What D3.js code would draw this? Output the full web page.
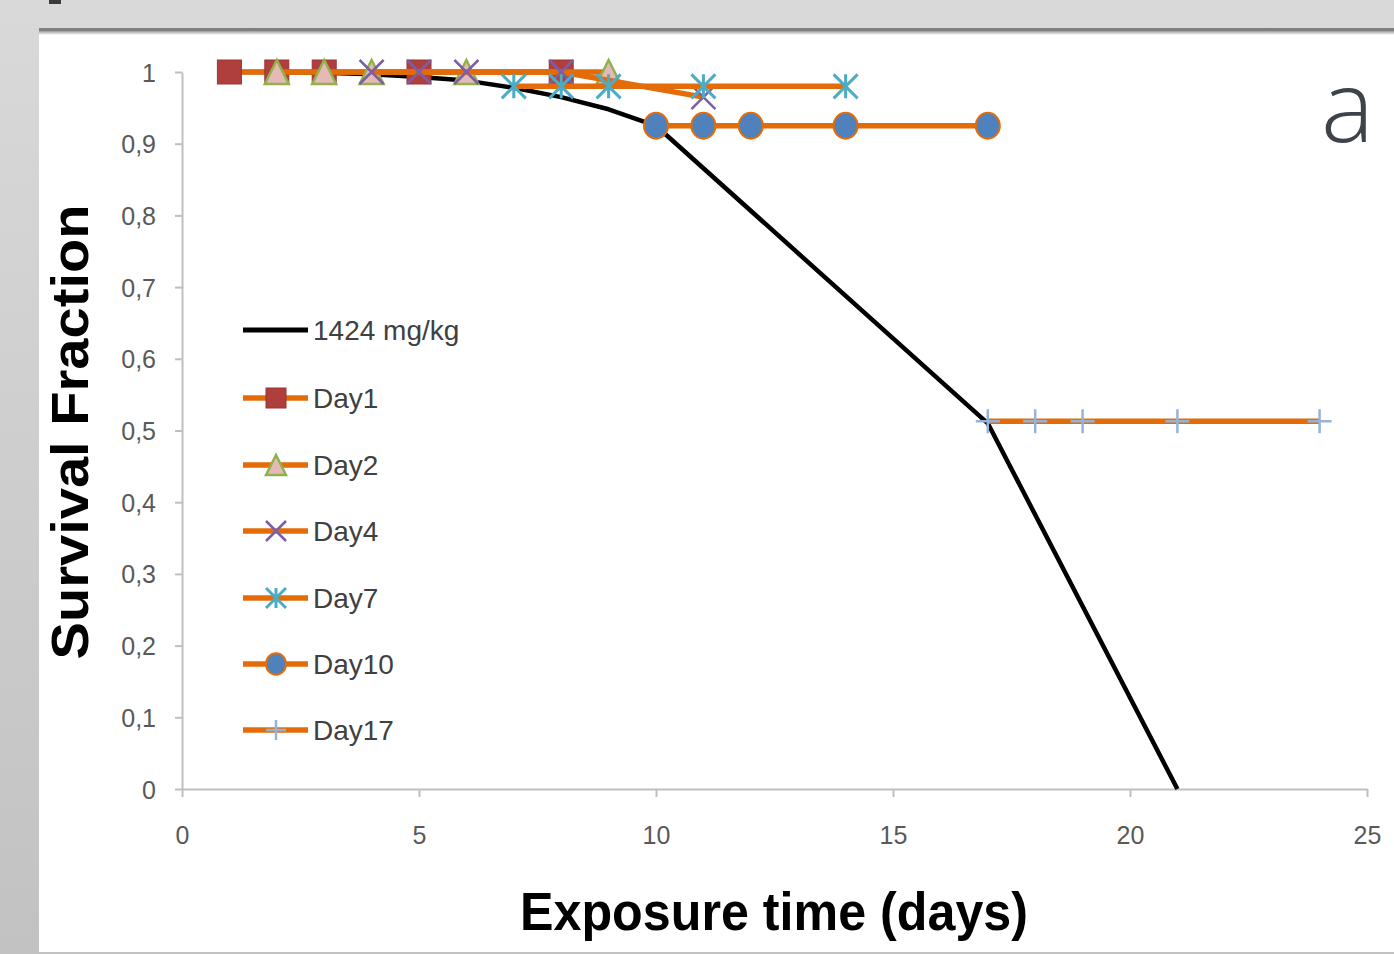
<!DOCTYPE html>
<html>
<head>
    <title>Survival Fraction</title>
    <script src="https://d3js.org/d3.v7.min.js"></script>
    <style>
        body { margin: 0; background: #d8d8d8; }
        svg { display: block; }
        .tick-label { font-family: "Liberation Sans", Arial, sans-serif; font-size: 25px; fill: #595959; }
        .legend-label { font-family: "Liberation Sans", Arial, sans-serif; font-size: 28px; fill: #404040; }
        .axis-title { font-family: "Liberation Sans", Arial, sans-serif; font-weight: bold; fill: #000; }
    </style>
</head>
<body>
<svg width="1394" height="954"></svg>
<script>
    // data
    const xTicks = [0, 5, 10, 15, 20, 25];
    const yTicks = [0, 0.1, 0.2, 0.3, 0.4, 0.5, 0.6, 0.7, 0.8, 0.9, 1];

    const doseDays = [1, 2, 3, 4, 5, 6, 7, 8, 9, 10, 17, 21];
    const doseSurv = [1, 1, 0.999, 0.997, 0.993, 0.988, 0.978, 0.965, 0.948, 0.925, 0.51, 0];

    const day1Days = [1, 2, 3, 5, 8];
    const day1Surv = [1, 1, 1, 1, 1];
    const day2Days = [2, 3, 4, 6, 9];
    const day2Surv = [1, 1, 1, 1, 1];
    const day4Days = [4, 5, 6, 8, 11];
    const day4Surv = [1, 1, 1, 1, 0.965];
    const day7Days = [7, 8, 9, 11, 14];
    const day7Surv = [0.98, 0.98, 0.98, 0.98, 0.98];
    const day10Days = [10, 11, 12, 14, 17];
    const day10Surv = [0.925, 0.925, 0.925, 0.925, 0.925];
    const day17Days = [17, 18, 19, 21, 24];
    const day17Surv = [0.513, 0.513, 0.513, 0.513, 0.513];

    const seriesNames = ["Day1", "Day2", "Day4", "Day7", "Day10", "Day17"];
    const seriesDays = [day1Days, day2Days, day4Days, day7Days, day10Days, day17Days];
    const seriesSurv = [day1Surv, day2Surv, day4Surv, day7Surv, day10Surv, day17Surv];
    const markers = ["square", "triangle", "cross", "star", "circle", "plus"];

    const orange = "#e36c09";

    const svg = d3.select("svg");

    // page background and white panel
    const defs = svg.append("defs");
    const bg = defs.append("linearGradient").attr("id", "bg")
        .attr("x1", 0).attr("y1", 0).attr("x2", 0).attr("y2", 1);
    bg.append("stop").attr("offset", "0%").attr("stop-color", "#d9d9d9");
    bg.append("stop").attr("offset", "100%").attr("stop-color", "#c2c2c2");
    const sh = defs.append("linearGradient").attr("id", "shadow")
        .attr("x1", 0).attr("y1", 0).attr("x2", 0).attr("y2", 1);
    sh.append("stop").attr("offset", "0%").attr("stop-color", "#9a9a9a");
    sh.append("stop").attr("offset", "100%").attr("stop-color", "#ffffff");

    svg.append("rect").attr("width", 1394).attr("height", 954).attr("fill", "url(#bg)");
    svg.append("rect").attr("x", 49).attr("y", 0).attr("width", 12).attr("height", 4).attr("fill", "#3a3a3a");
    svg.append("rect").attr("x", 39).attr("y", 28).attr("width", 1355).attr("height", 924).attr("fill", "#fff");
    svg.append("rect").attr("x", 39).attr("y", 28).attr("width", 1355).attr("height", 3).attr("fill", "#7f7f7f");
    svg.append("rect").attr("x", 39).attr("y", 31).attr("width", 1355).attr("height", 4).attr("fill", "url(#shadow)");

    const x = d3.scaleLinear().domain([0, 25]).range([182, 1367]);
    const y = d3.scaleLinear().domain([0, 1]).range([789, 72]);

    // axes
    const xAxis = svg.append("g")
        .attr("transform", "translate(0," + y(0) + ")")
        .call(d3.axisBottom(x).tickValues(xTicks).tickSize(8).tickSizeOuter(0).tickFormat(d3.format("d")));
    const yAxis = svg.append("g")
        .attr("transform", "translate(" + x(0) + ",0)")
        .call(d3.axisLeft(y).tickValues(yTicks).tickSize(7).tickSizeOuter(0)
            .tickFormat(d => d3.format("~g")(d).replace(".", ",")));

    [xAxis, yAxis].forEach(a => {
        a.select(".domain").attr("stroke", "#bfbfbf").attr("stroke-width", 2);
        a.selectAll(".tick line").attr("stroke", "#bfbfbf").attr("stroke-width", 2);
        a.selectAll(".tick text").attr("class", "tick-label").attr("font-size", null).attr("font-family", null).attr("fill", null);
    });
    xAxis.selectAll(".tick text").attr("dy", null).attr("y", 55);
    yAxis.selectAll(".tick text").attr("x", -26).attr("dy", "0.36em");

    // marker drawing
    function drawMarker(g, type, cx, cy, s) {
        const h = s / 2;
        if (type === "square") {
            g.append("rect").attr("x", cx - h).attr("y", cy - h).attr("width", s).attr("height", s)
                .attr("fill", "#ae3f3c").attr("stroke", "#9a3634").attr("stroke-width", 1);
        } else if (type === "triangle") {
            g.append("path").attr("d", d3.line()([[cx, cy - h], [cx + h, cy + h], [cx - h, cy + h]]) + "Z")
                .attr("fill", "#e6b9b8").attr("stroke", "#8fb24b").attr("stroke-width", 2.5);
        } else if (type === "cross") {
            g.append("path").attr("d", `M${cx - h},${cy - h}L${cx + h},${cy + h}M${cx - h},${cy + h}L${cx + h},${cy - h}`)
                .attr("stroke", "#7b5ea7").attr("stroke-width", 2.5).attr("fill", "none");
        } else if (type === "star") {
            g.append("path").attr("d", `M${cx - h},${cy - h}L${cx + h},${cy + h}M${cx - h},${cy + h}L${cx + h},${cy - h}M${cx},${cy - h}L${cx},${cy + h}`)
                .attr("stroke", "#4bacc6").attr("stroke-width", 3).attr("fill", "none");
        } else if (type === "circle") {
            g.append("ellipse").attr("cx", cx).attr("cy", cy).attr("rx", h).attr("ry", h * 1.08)
                .attr("fill", "#4f81bd").attr("stroke", orange).attr("stroke-width", 2);
        } else if (type === "plus") {
            g.append("path").attr("d", `M${cx - h},${cy}L${cx + h},${cy}M${cx},${cy - h}L${cx},${cy + h}`)
                .attr("stroke", "#95b3d7").attr("stroke-width", 2.5).attr("fill", "none");
        }
    }

    const line = d3.line().x(d => x(d[0])).y(d => y(d[1]));

    // black dose curve
    svg.append("path")
        .datum(doseDays.map((d, i) => [d, doseSurv[i]]))
        .attr("d", line)
        .attr("fill", "none").attr("stroke", "#000").attr("stroke-width", 4.5)
        .attr("stroke-linejoin", "round");

    // orange series, drawn in order
    seriesNames.forEach((name, k) => {
        const pts = seriesDays[k].map((d, i) => [d, seriesSurv[k][i]]);
        const g = svg.append("g");
        g.append("path").datum(pts).attr("d", line)
            .attr("fill", "none").attr("stroke", orange).attr("stroke-width", 5.5)
            .attr("stroke-linejoin", "round");
        pts.forEach(p => drawMarker(g, markers[k], x(p[0]), y(p[1]), 24));
    });

    // legend
    const legendY = [330, 398, 465, 531, 598, 664, 730];
    const leg = svg.append("g");
    leg.append("line").attr("x1", 243).attr("x2", 308).attr("y1", legendY[0]).attr("y2", legendY[0])
        .attr("stroke", "#000").attr("stroke-width", 5);
    leg.append("text").attr("class", "legend-label").attr("x", 313).attr("y", legendY[0] + 10).text("1424 mg/kg");
    seriesNames.forEach((name, k) => {
        const ly = legendY[k + 1];
        leg.append("line").attr("x1", 243).attr("x2", 308).attr("y1", ly).attr("y2", ly)
            .attr("stroke", orange).attr("stroke-width", 5.5);
        drawMarker(leg, markers[k], 276, ly, 20);
        leg.append("text").attr("class", "legend-label").attr("x", 313).attr("y", ly + 10).text(name);
    });

    // axis titles
    svg.append("text").attr("class", "axis-title")
        .attr("transform", "translate(88,432) rotate(-90)")
        .attr("text-anchor", "middle").attr("font-size", 52)
        .attr("textLength", 455).attr("lengthAdjust", "spacingAndGlyphs")
        .text("Survival Fraction");
    svg.append("text").attr("class", "axis-title")
        .attr("x", 774).attr("y", 930)
        .attr("text-anchor", "middle").attr("font-size", 54)
        .attr("textLength", 508).attr("lengthAdjust", "spacingAndGlyphs")
        .text("Exposure time (days)");

    // panel letter
    svg.append("text")
        .attr("x", 1321).attr("y", 142)
        .attr("font-family", "'Open Sans', sans-serif").attr("font-weight", 300)
        .attr("font-size", 100).attr("fill", "#3d4349")
        .text("a");
</script>
</body>
</html>
